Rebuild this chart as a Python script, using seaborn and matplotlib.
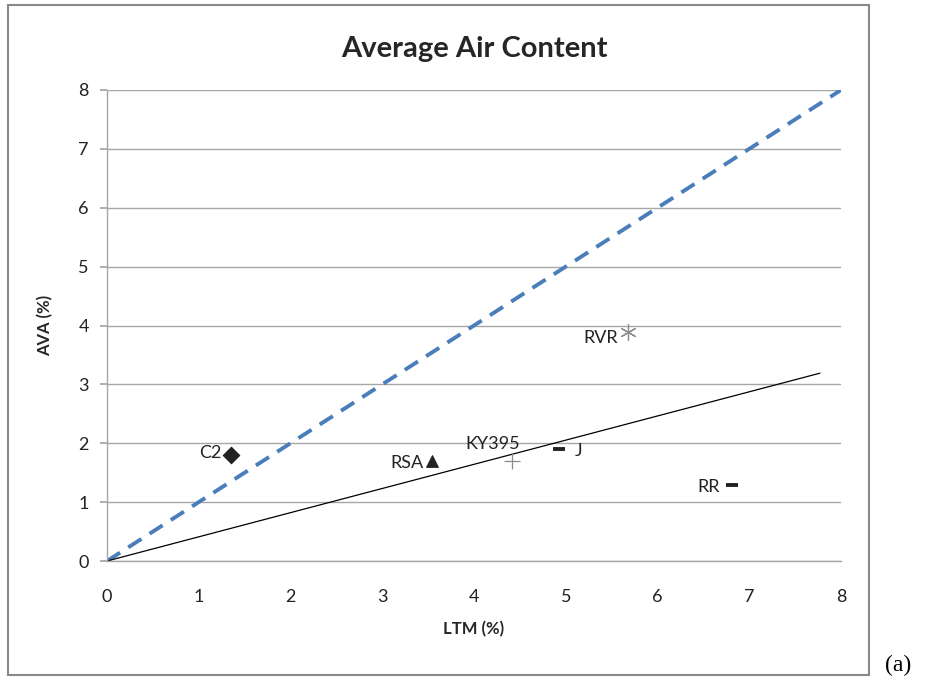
import numpy as np
import pandas as pd
import matplotlib.pyplot as plt
import seaborn as sns
from matplotlib.patches import Rectangle

# --- data ---
mixes = ["C2", "RSA", "KY395", "J", "RVR", "RR"]
ltm = [1.35, 3.54, 4.41, 4.93, 5.68, 6.81]
ava = [1.80, 1.70, 1.70, 1.90, 3.89, 1.29]
markers = ["D", "^", "+", "_", (6, 2, 0), "_"]
colors = ["#222222", "#222222", "#8c8c8c", "#222222", "#8c8c8c", "#222222"]

line_eq_x = [0, 8]
line_eq_y = [0, 8]
fit_x = [0, 7.77]
fit_y = [0, 3.19]

df = pd.DataFrame({"Mix": mixes, "LTM": ltm, "AVA": ava})

sns.set_theme(style="white")
plt.rcParams["font.family"] = ["Lato", "DejaVu Sans"]

fig = plt.figure(figsize=(9.25, 6.83), dpi=100)
ax = fig.add_axes([107 / 925, 1 - 561 / 683, 734 / 925, 471 / 683])

# outer chart frame
fig.patches.append(Rectangle((8 / 925, 1 - 675 / 683), 861 / 925, 670 / 683,
                             transform=fig.transFigure, fill=False,
                             edgecolor="#8a8a8a", linewidth=1.5))

sns.lineplot(x=line_eq_x, y=line_eq_y, ax=ax, color="#4a7ebb",
             linestyle=(0, (4, 2.5)), linewidth=2.8)
sns.lineplot(x=fit_x, y=fit_y, ax=ax, color="black", linewidth=0.9)

for i, row in df.iterrows():
    m = markers[i]
    filled = m in ("D", "^")
    if filled:
        size, lw = 70, 0.8
    elif m == "_":
        size, lw = 80, 2.8
    else:
        size, lw = 130, 0.9
    sns.scatterplot(x=[row["LTM"]], y=[row["AVA"]], ax=ax, marker=m,
                    color=colors[i], s=size, linewidth=lw,
                    edgecolor=colors[i] if filled else None, zorder=5)

# point labels
lab_style = dict(fontsize=13, color="#222222")
ax.text(1.25, 1.83, "C2", ha="right", va="center", **lab_style)
ax.text(3.45, 1.66, "RSA", ha="right", va="center", **lab_style)
ax.text(4.50, 1.99, "KY395", ha="right", va="center", **lab_style)
ax.text(5.10, 1.86, "J", ha="left", va="center", **lab_style)
ax.text(5.57, 3.78, "RVR", ha="right", va="center", **lab_style)
ax.text(6.68, 1.25, "RR", ha="right", va="center", **lab_style)

ax.set_xlim(0, 8)
ax.set_ylim(0, 8)
ax.set_xticks(range(0, 9))
ax.set_yticks(range(0, 9))
ax.grid(True, axis="y", color="#a6a6a6", linewidth=1)
ax.grid(False, axis="x")
ax.set_axisbelow(True)

for side in ["top", "right"]:
    ax.spines[side].set_visible(False)
for side in ["left", "bottom"]:
    ax.spines[side].set_color("#a6a6a6")
    ax.spines[side].set_linewidth(1)

ax.tick_params(axis="y", left=True, length=5, color="#a6a6a6", labelsize=13, pad=8,
               labelcolor="#222222")
ax.tick_params(axis="x", bottom=False, labelsize=13, pad=14, labelcolor="#222222")

ax.set_xlabel("LTM (%)", fontsize=12, fontweight="bold", labelpad=12)
ax.set_ylabel("AVA (%)", fontsize=12, fontweight="bold", labelpad=18)
ax.set_title("Average Air Content", fontsize=21, fontweight="bold", pad=24)

fig.text(885 / 925, 1 - 665 / 683, "(a)", fontsize=17, family="Liberation Serif",
         ha="left", va="center", color="black")

fig.savefig("out.png", dpi=100, facecolor="white")
plt.close()
